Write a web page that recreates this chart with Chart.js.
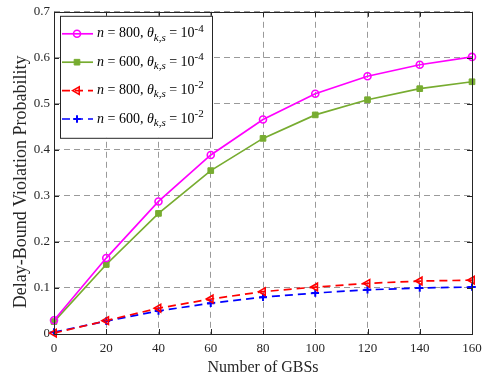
<!DOCTYPE html>
<html lang="en">
<head>
<meta charset="UTF-8" />
<title>Delay-Bound Violation Probability</title>
<script src="https://cdn.jsdelivr.net/npm/chart.js"></script>
<style>
  body { margin: 0; background: #fff; }
  #wrap { width: 490px; height: 384px; }
</style>
</head>
<body>
<div id="wrap"><canvas id="myChart"></canvas></div>
<script>
// number of GBSs on the x axis
var gbs = [0, 20, 40, 60, 80, 100, 120, 140, 160];

// violation probability per setting
var n800t4 = [0.030, 0.165, 0.288, 0.389, 0.466, 0.522, 0.560, 0.585, 0.602];
var n600t4 = [0.027, 0.151, 0.262, 0.355, 0.425, 0.476, 0.509, 0.533, 0.548];
var n800t2 = [0.002, 0.029, 0.056, 0.076, 0.092, 0.102, 0.110, 0.115, 0.117];
var n600t2 = [0.004, 0.028, 0.050, 0.067, 0.080, 0.089, 0.096, 0.100, 0.102];

// legend: n and exponent of theta
var legendN = [800, 600, 800, 600];
var legendExp = ['-4', '-4', '-2', '-2'];

var SERIF = '"Liberation Serif", "Times New Roman", serif';

function pts(ys) {
  return ys.map(function (y, i) { return { x: gbs[i], y: y }; });
}

var datasets = [
  { data: pts(n800t4), borderColor: '#FF00FF', backgroundColor: 'rgba(0,0,0,0)',
    pointStyle: 'circle', pointRadius: 3.5, pointBorderWidth: 1.6, borderDash: [] },
  { data: pts(n600t4), borderColor: '#77AC30', backgroundColor: '#77AC30',
    pointStyle: 'rect', pointRadius: 4, pointBorderWidth: 1, borderDash: [] },
  { data: pts(n800t2), borderColor: '#FF0000', backgroundColor: 'rgba(0,0,0,0)',
    pointStyle: 'triangle', pointRotation: -90, pointRadius: 4.4, pointBorderWidth: 1.6, borderDash: [8, 5] },
  { data: pts(n600t2), borderColor: '#0000FF', backgroundColor: '#0000FF',
    pointStyle: 'cross', pointRadius: 3.8, pointBorderWidth: 2, borderDash: [8, 5] }
];
datasets.forEach(function (d) {
  d.borderWidth = 1.7;
  d.pointBackgroundColor = d.backgroundColor;
  d.pointBorderColor = d.borderColor;
  d.tension = 0;
  d.clip = false;
});

// italic / sub / sup pieces written one after another
function richText(ctx, x, y, parts) {
  parts.forEach(function (p) {
    var size = p.s ? 11 : 14;
    var dy = p.s === 'sub' ? 4 : p.s === 'sup' ? -5 : 0;
    ctx.font = (p.i ? 'italic ' : '') + size + 'px ' + SERIF;
    ctx.fillText(p.t, x, y + dy);
    x += ctx.measureText(p.t).width;
  });
}

var framePlugin = {
  id: 'frame',
  afterDraw: function (chart) {
    var ctx = chart.ctx, a = chart.chartArea;
    var xs = chart.scales.x, ys = chart.scales.y;
    ctx.save();
    ctx.strokeStyle = '#262626';
    ctx.lineWidth = 1;
    ctx.setLineDash([]);
    ctx.strokeRect(Math.round(a.left) + 0.5, Math.round(a.top) + 0.5,
      Math.round(a.right - a.left), Math.round(a.bottom - a.top));
    // inward tick marks on all sides
    ctx.beginPath();
    xs.ticks.forEach(function (t) {
      var px = Math.round(xs.getPixelForValue(t.value)) + 0.5;
      ctx.moveTo(px, a.bottom); ctx.lineTo(px, a.bottom - 5);
      ctx.moveTo(px, a.top); ctx.lineTo(px, a.top + 5);
    });
    ys.ticks.forEach(function (t) {
      var py = Math.round(ys.getPixelForValue(t.value)) + 0.5;
      ctx.moveTo(a.left, py); ctx.lineTo(a.left + 5, py);
      ctx.moveTo(a.right, py); ctx.lineTo(a.right - 5, py);
    });
    ctx.stroke();

    // legend box
    var bx = a.left + 6, by = a.top + 4, bw = 152, bh = 122;
    ctx.fillStyle = '#fff';
    ctx.fillRect(bx, by, bw, bh);
    ctx.strokeStyle = '#262626';
    ctx.strokeRect(bx + 0.5, by + 0.5, bw, bh);
    chart.data.datasets.forEach(function (d, i) {
      var cy = by + 18 + i * 28.4;
      ctx.strokeStyle = d.borderColor;
      ctx.lineWidth = d.borderWidth;
      ctx.setLineDash(d.borderDash);
      ctx.beginPath();
      ctx.moveTo(bx + 2, cy); ctx.lineTo(bx + 33, cy);
      ctx.stroke();
      ctx.setLineDash([]);
      ctx.lineWidth = d.pointBorderWidth;
      ctx.fillStyle = d.pointBackgroundColor;
      Chart.helpers.drawPoint(ctx, {
        pointStyle: d.pointStyle, radius: d.pointRadius,
        rotation: d.pointRotation || 0, borderWidth: d.pointBorderWidth
      }, bx + 17, cy);
      ctx.fillStyle = '#000';
      ctx.textBaseline = 'middle';
      ctx.textAlign = 'left';
      richText(ctx, bx + 37, cy, [
        { t: 'n', i: 1 }, { t: ' = ' + legendN[i] + ', ' },
        { t: 'θ', i: 1 }, { t: 'k,s', i: 1, s: 'sub' },
        { t: ' = 10' }, { t: legendExp[i], s: 'sup' }
      ]);
    });
    ctx.restore();
  }
};

var ctx = document.getElementById('myChart').getContext('2d');
new Chart(ctx, {
  type: 'line',
  data: { datasets: datasets },
  options: {
    responsive: true,
    maintainAspectRatio: false,
    animation: false,
    events: [],
    layout: { padding: { top: 6, right: 18, left: 0, bottom: 0 } },
    plugins: { legend: { display: false }, tooltip: { enabled: false } },
    scales: {
      x: {
        type: 'linear', min: 0, max: 160,
        afterFit: function (s) { s.height = 50; },
        ticks: { stepSize: 20, color: '#262626', padding: 7, font: { family: SERIF, size: 13 } },
        grid: { color: '#9a9a9a', lineWidth: 1, drawTicks: false },
        border: { display: false, dash: [6, 4] },
        title: { display: true, text: 'Number of GBSs', color: '#262626',
          font: { family: SERIF, size: 16 }, padding: { top: 0, bottom: 7 } }
      },
      y: {
        min: 0, max: 0.7,
        afterFit: function (s) { s.width = 54; },
        ticks: { stepSize: 0.1, color: '#262626', padding: 4, font: { family: SERIF, size: 13 } },
        grid: { color: '#9a9a9a', lineWidth: 1, drawTicks: false },
        border: { display: false, dash: [6, 4] },
        // trailing spaces push the label a little toward the bottom
        title: { display: true, text: 'Delay-Bound Violation Probability    ', color: '#262626',
          font: { family: SERIF, size: 18 }, padding: { top: 10, bottom: 0 } }
      }
    }
  },
  plugins: [framePlugin]
});
</script>
</body>
</html>
